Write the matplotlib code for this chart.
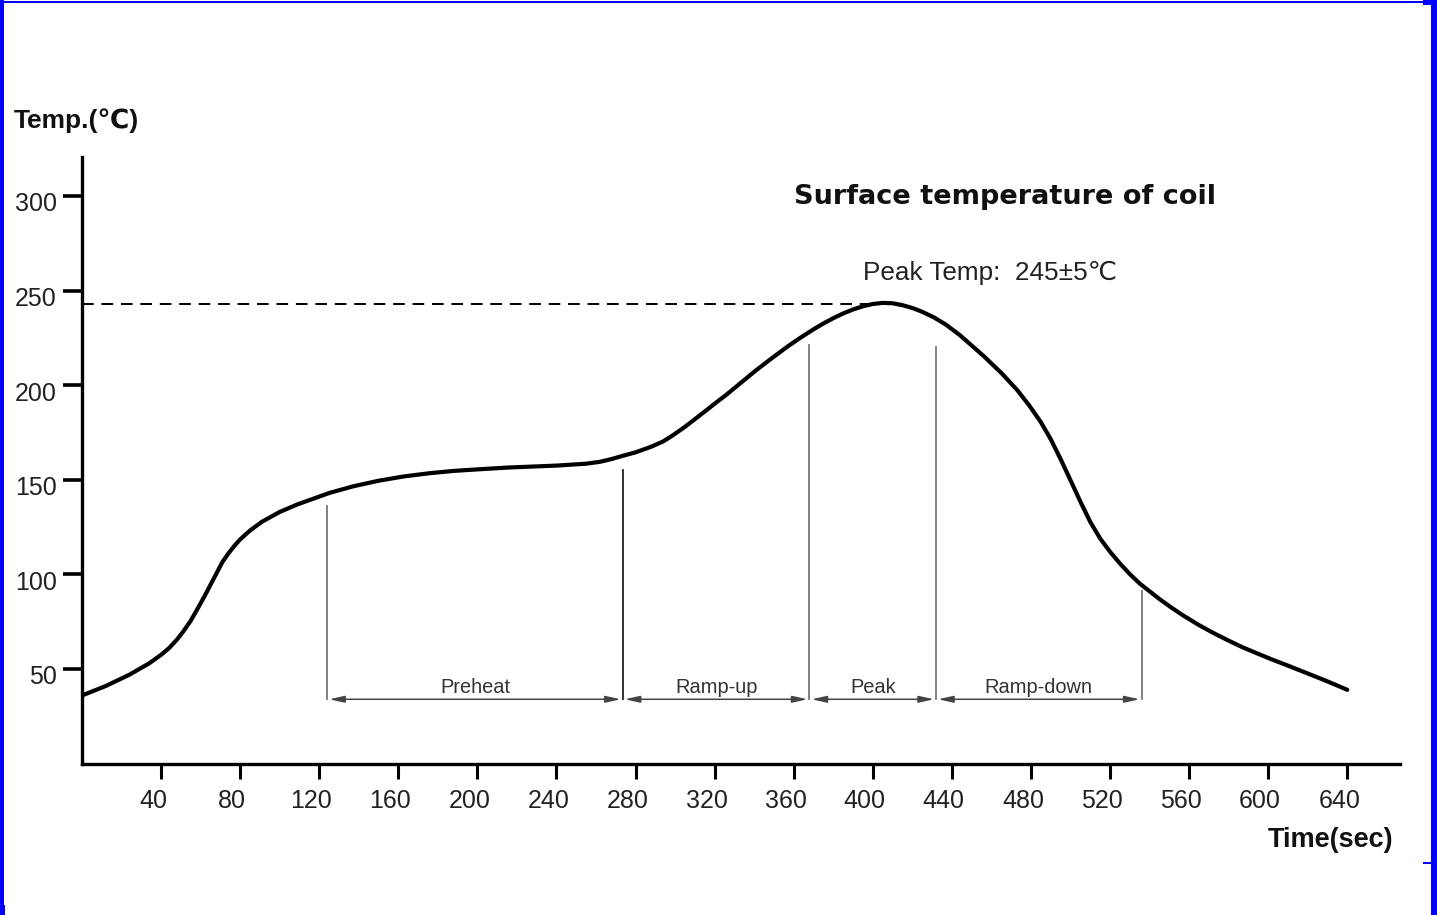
import matplotlib
matplotlib.use("Agg")
import matplotlib.pyplot as plt
from matplotlib.transforms import ScaledTranslation
from matplotlib.patches import Rectangle

# ---------------- data ----------------
time_s = [0, 12, 24, 34, 40, 44, 48, 51, 55, 58, 62, 65, 68, 71, 74, 77, 80, 85, 91,
          100, 109, 117, 125, 137, 150, 163, 176, 188, 200, 216, 240, 255, 262, 268,
          274, 280, 288, 294, 299, 305, 310, 316, 321, 326, 331, 336, 341, 349, 357,
          363, 370, 375, 380, 385, 390, 395, 400, 405, 410, 415, 420, 425, 431, 437,
          444, 450, 456, 465, 473, 479, 485, 490, 495, 500, 505, 510, 515, 520, 525,
          530, 535, 545, 551, 557, 565, 572, 580, 587, 595, 602, 609, 616, 622, 628,
          634, 640]
temp_c = [36, 41, 47, 53, 57.5, 61, 65.5, 69.5, 75.5, 81, 88.5, 94.5, 100.5, 106.5, 111, 115, 118.5, 123.2, 127.8,
          133, 137, 140, 143, 146.5, 149.5, 151.8, 153.5, 154.7, 155.5, 156.5, 157.5, 158.5, 159.5, 161,
          162.8, 164.5, 167.5, 170.3, 173.6, 178, 182, 186.9, 191, 195, 199.3, 203.6, 207.9, 214.3, 220.5,
          224.8, 229.5, 232.6, 235.4, 237.9, 240, 241.7, 242.9, 243.5, 243.3, 242.3, 240.8, 238.8, 235.8, 232,
          226.5, 221, 215.5, 206.5, 197.5, 189.5, 180.5, 171.5, 161, 149.8, 138.5, 127.8, 119, 112, 105.8,
          100.2, 95.2, 87, 82.5, 78.3, 73.2, 69.2, 65, 61.5, 58, 55, 52.2, 49.3, 46.8, 44.3,
          41.7, 39]

x_ticks = [40, 80, 120, 160, 200, 240, 280, 320, 360, 400, 440, 480, 520, 560, 600, 640]
y_ticks = [50, 100, 150, 200, 250, 300]

phase_names = ["Preheat", "Ramp-up", "Peak", "Ramp-down"]
phase_bounds = [124, 273.5, 368, 432, 536]
bound_tops = [136, 155, 221, 220, 91]
bound_colors = ["#777777", "#222222", "#777777", "#777777", "#777777"]
arrow_level = 34
peak_temp = 243

title_text = "Surface temperature of coil"
peak_text = "Peak Temp:  245\u00b15\u2103"
ylabel_text = "Temp.(\u2103)"
xlabel_text = "Time(sec)"

# ---------------- figure ----------------
W, H = 1437, 915
fig = plt.figure(figsize=(W / 100, H / 100), dpi=100)
fig.patch.set_facecolor("white")

ax = fig.add_axes([82 / W, (H - 763.6) / H, 1318 / W, 606.6 / H])
ax.set_xlim(0, 666.7)
ax.set_ylim(0, 320.6)

FAM = ["Liberation Sans", "DejaVu Sans"]

# main curve
ax.plot(time_s, temp_c, color="black", lw=3.0,
        solid_joinstyle="round", solid_capstyle="round", zorder=5)

# dashed peak line
ax.plot([0, 400], [peak_temp, peak_temp], color="black", lw=1.4,
        linestyle=(0, (6, 4)), zorder=4)

# phase boundary lines
for b, top, c in zip(phase_bounds, bound_tops, bound_colors):
    ax.plot([b, b], [arrow_level, top], color=c, lw=1.3, zorder=3)

# phase arrows and labels
for i, name in enumerate(phase_names):
    a, b = phase_bounds[i], phase_bounds[i + 1]
    ax.annotate("", xy=(b - 1.0, arrow_level), xytext=(a + 1.0, arrow_level),
                arrowprops=dict(arrowstyle="<|-|>,head_length=0.9,head_width=0.2",
                                mutation_scale=10, lw=1.1, color="#444444",
                                shrinkA=0, shrinkB=0))
    ax.text((a + b) / 2, 37.5, name, ha="center", va="baseline",
            fontsize=14.4, family=FAM, color="#333333")

# spines and ticks
for s in ["top", "right"]:
    ax.spines[s].set_visible(False)
ax.spines["left"].set_linewidth(2.4)
ax.spines["bottom"].set_linewidth(2.4)

ax.set_xticks(x_ticks)
ax.set_xticklabels([str(v) for v in x_ticks])
ax.set_yticks(y_ticks)
ax.set_yticklabels([str(v) for v in y_ticks])
ax.tick_params(axis="y", length=14, width=2.6, direction="out", pad=4,
               labelsize=18, labelcolor="#222222")
ax.tick_params(axis="x", length=11, width=2.2, direction="out", pad=7,
               labelsize=18, labelcolor="#222222")
for lab in ax.get_xticklabels() + ax.get_yticklabels():
    lab.set_family(FAM)

dx = ScaledTranslation(-8 / 100, 0, fig.dpi_scale_trans)
for lab in ax.get_xticklabels():
    lab.set_transform(lab.get_transform() + dx)
dy = ScaledTranslation(0, -6 / 100, fig.dpi_scale_trans)
for lab in ax.get_yticklabels():
    lab.set_transform(lab.get_transform() + dy)

# texts
fig.text(1005 / W, 1 - 197 / H, title_text, ha="center", va="center",
         fontsize=19.5, fontweight="bold", family=["DejaVu Sans"], color="#111111")
fig.text(990 / W, 1 - 273 / H, peak_text, ha="center", va="center",
         fontsize=18.8, family=FAM, color="#222222")
fig.text(76 / W, 1 - 121 / H, ylabel_text, ha="center", va="center",
         fontsize=19, fontweight="bold", family=FAM, color="#111111")
fig.text(1331 / W, 1 - 840 / H, xlabel_text, ha="center", va="center",
         fontsize=19.5, fontweight="bold", family=FAM, color="#111111")

# blue frame pieces (pixel boxes: x, y_top, w, h)
blue_boxes = [(0, 0.5, 1425, 2.2), (0, 0, 4, 915), (1431, 0, 6, 915),
              (1423, 0, 9, 5), (1423, 862, 9, 2.2), (0, 905, 5, 10)]
for (x, y, w, h) in blue_boxes:
    fig.patches.append(Rectangle((x / W, 1 - (y + h) / H), w / W, h / H,
                                 transform=fig.transFigure, facecolor="#0000ff",
                                 edgecolor="none", zorder=10))

fig.savefig("out.png", dpi=100, facecolor="white")
